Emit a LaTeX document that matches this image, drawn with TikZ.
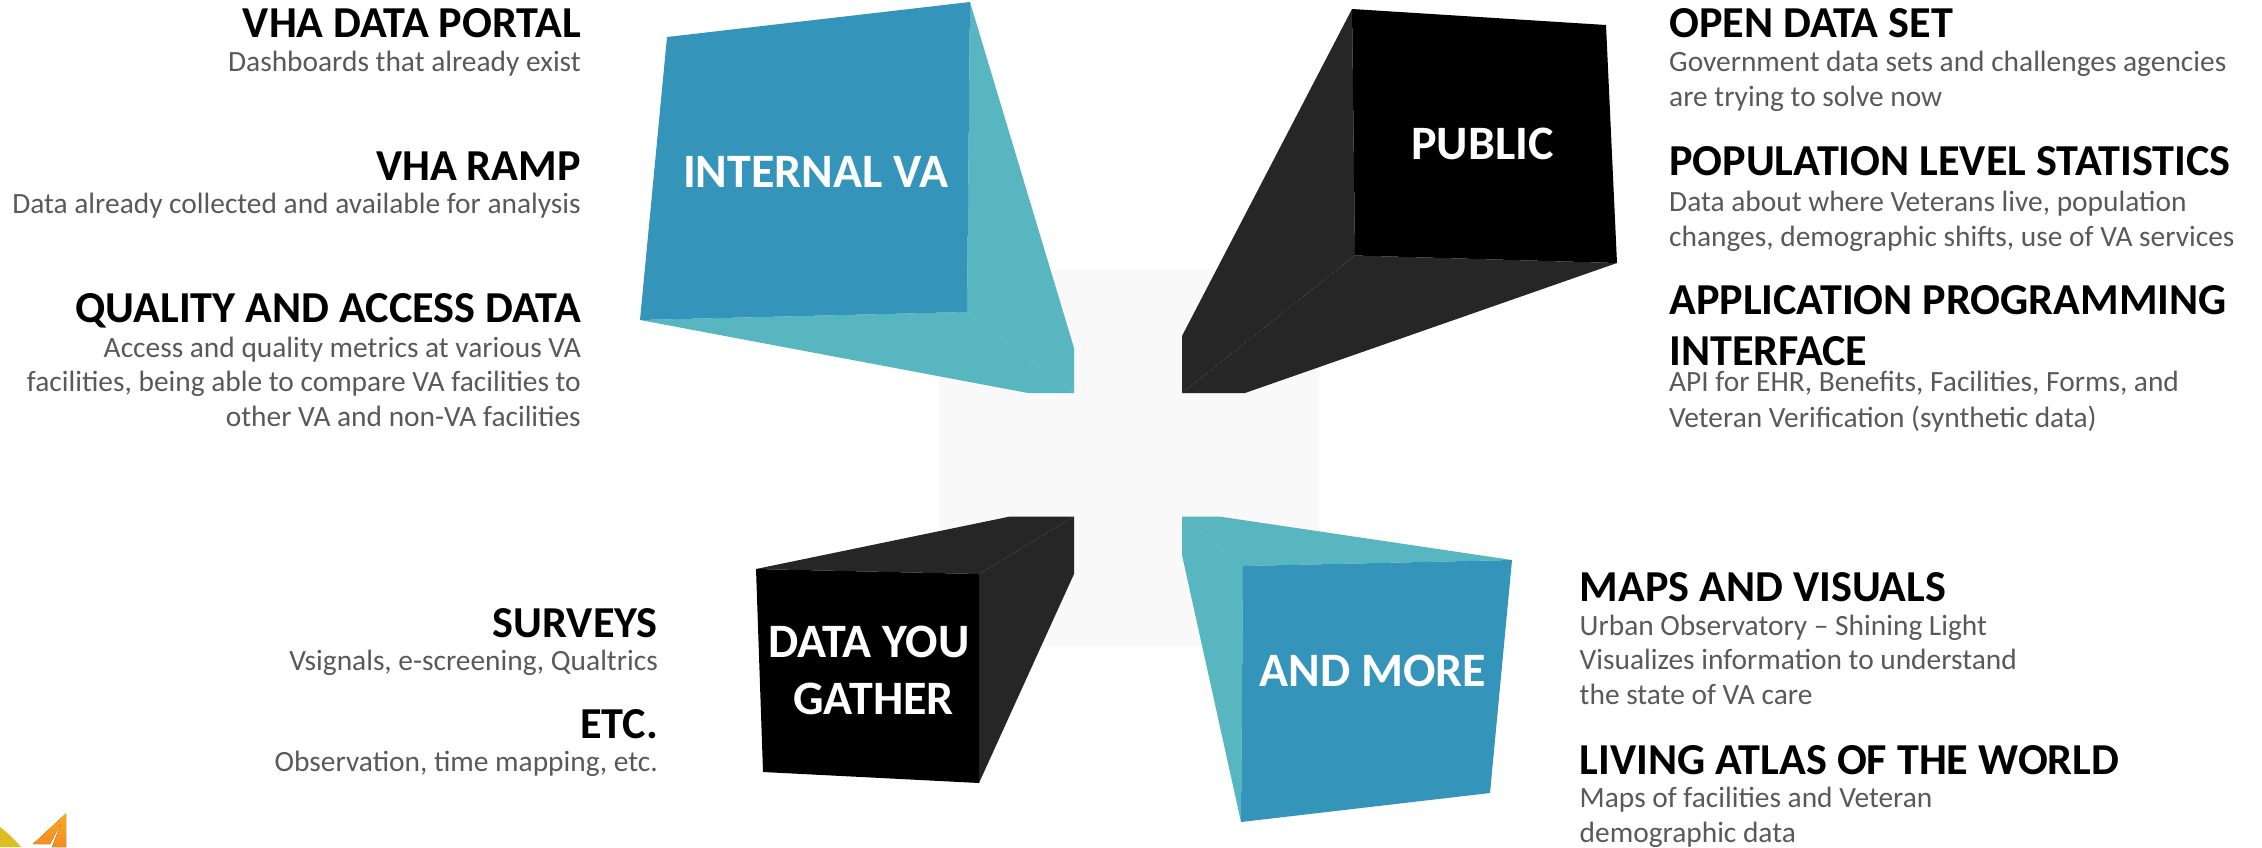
\documentclass[tikz,border=0pt]{standalone}
\usepackage{fontspec}
\setmainfont{Carlito}
\definecolor{vablue}{HTML}{3494BA}
\definecolor{vateal}{HTML}{58B6C0}
\definecolor{vadark}{HTML}{262626}
\definecolor{vagray}{HTML}{595959}
\definecolor{vapale}{HTML}{F9F9F9}
\definecolor{logoy}{HTML}{DDBE22}
\definecolor{logoa}{HTML}{FBAA20}
\definecolor{logob}{HTML}{F58B1F}
\tikzset{
  x=1pt,y=-1pt,
  headl/.style={anchor=base west,yshift=-1.2pt,inner sep=0pt,text=black,font=\fontsize{44.2}{44.2}\selectfont\bfseries},
  headr/.style={anchor=base east,yshift=-1.2pt,inner sep=0pt,text=black,font=\fontsize{44.2}{44.2}\selectfont\bfseries},
  descl/.style={anchor=base west,yshift=-1.2pt,inner sep=0pt,text=vagray,font=\fontsize{29.4}{29.4}\selectfont},
  descr/.style={anchor=base east,yshift=-1.2pt,inner sep=0pt,text=vagray,font=\fontsize{29.4}{29.4}\selectfont},
  boxtext/.style={anchor=base,yshift=-1.2pt,inner sep=0pt,text=white,font=\fontsize{48}{48}\selectfont\bfseries},
}
\begin{document}
\begin{tikzpicture}
\useasboundingbox (0,0) rectangle (2262,847);
% centre panel
\fill[vapale] (939,269) rectangle (1319,646);
% internal VA
\fill[vateal] (970,2) -- (1074,348) -- (1074,393) -- (967,312) -- cycle;
\fill[vateal] (640,320) -- (967,312) -- (1074,393) -- (1028,393) -- cycle;
\fill[vablue] (667,37) -- (970,2) -- (967,312) -- (640,320) -- cycle;
% public
\fill[vadark] (1352,9) -- (1182,336) -- (1182,393) -- (1355,255.5) -- cycle;
\fill[vadark] (1355,255.5) -- (1617,263) -- (1245,393) -- (1182,393) -- cycle;
\fill[black] (1352,9) -- (1606,25) -- (1617,263) -- (1355,255.5) -- cycle;
% data you gather
\fill[vadark] (756,569) -- (1010,516.5) -- (1074,516.5) -- (979,574) -- cycle;
\fill[vadark] (979,574) -- (1074,516.5) -- (1074,574) -- (979,783) -- cycle;
\fill[black] (756,569) -- (979,574) -- (979,783) -- (763,772) -- cycle;
% and more
\fill[vateal] (1182,516.5) -- (1243,566) -- (1241,822) -- (1182,555) -- cycle;
\fill[vateal] (1182,516.5) -- (1219,516.5) -- (1512,560) -- (1243,566) -- cycle;
\fill[vablue] (1243,566) -- (1512,560) -- (1490,793) -- (1241,822) -- cycle;
% logo fragment
\fill[logoy] (0,827) .. controls (8,833) and (15,840) .. (21,847) -- (0,847) -- cycle;
\fill[top color=logoa,bottom color=logob] (33,844) -- (66,813.5) -- (66,847) -- (52,847) -- (62,821) -- (50,844) -- cycle;
% box labels
\node[boxtext] (lblinternal) at (815.7,186) {INTERNAL VA};
\node[boxtext] (lblpublic) at (1482.5,158) {PUBLIC};
\node[boxtext] (lbldata) at (869,656) {DATA YOU};
\node[boxtext] (lblgather) at (873.6,713) {GATHER};
\node[boxtext] (lblmore) at (1372.7,685) {AND MORE};
% upper left
\node[headr] (h1) at (581,36.7) {VHA DATA PORTAL};
\node[descr] (d1) at (581,70.7) {Dashboards that already exist};
\node[headr] (h2) at (581,179) {VHA RAMP};
\node[descr] (d2) at (581,212.7) {Data already collected and available for analysis};
\node[headr] (h3) at (581,321.7) {QUALITY AND ACCESS DATA};
\node[descr] (d3a) at (581,356) {Access and quality metrics at various VA};
\node[descr] (d3b) at (581,390.7) {facilities, being able to compare VA facilities to};
\node[descr] (d3c) at (581,425) {other VA and non-VA facilities};
% upper right
\node[headl] (h4) at (1669,36.7) {OPEN DATA SET};
\node[descl] (d4a) at (1669,70.7) {Government data sets and challenges agencies};
\node[descl] (d4b) at (1669,105.3) {are trying to solve now};
\node[headl] (h5) at (1669,174) {POPULATION LEVEL STATISTICS};
\node[descl] (d5a) at (1669,210) {Data about where Veterans live, population};
\node[descl] (d5b) at (1669,245) {changes, demographic shifts, use of VA services};
\node[headl] (h6a) at (1669,313) {APPLICATION PROGRAMMING};
\node[headl] (h6b) at (1669,364) {INTERFACE};
\node[descl] (d6a) at (1669,390.7) {API for EHR, Benefits, Facilities, Forms, and};
\node[descl] (d6b) at (1669,426) {Veteran Verification (synthetic data)};
% lower left
\node[headr] (h7) at (658,636) {SURVEYS};
\node[descr] (d7) at (658,669) {Vsignals, e-screening, Qualtrics};
\node[headr] (h8) at (658,737) {ETC.};
\node[descr] (d8) at (658,770) {Observation, time mapping, etc.};
% lower right
\node[headl] (h9) at (1579.5,600.7) {MAPS AND VISUALS};
\node[descl] (d9a) at (1579.5,634) {Urban Observatory – Shining Light};
\node[descl] (d9b) at (1579.5,668.7) {Visualizes information to understand};
\node[descl] (d9c) at (1579.5,703) {the state of VA care};
\node[headl] (h10) at (1579.5,773) {LIVING ATLAS OF THE WORLD};
\node[descl] (d10a) at (1579.5,806.7) {Maps of facilities and Veteran};
\node[descl] (d10b) at (1579.5,841) {demographic data};
\end{tikzpicture}
\end{document}
